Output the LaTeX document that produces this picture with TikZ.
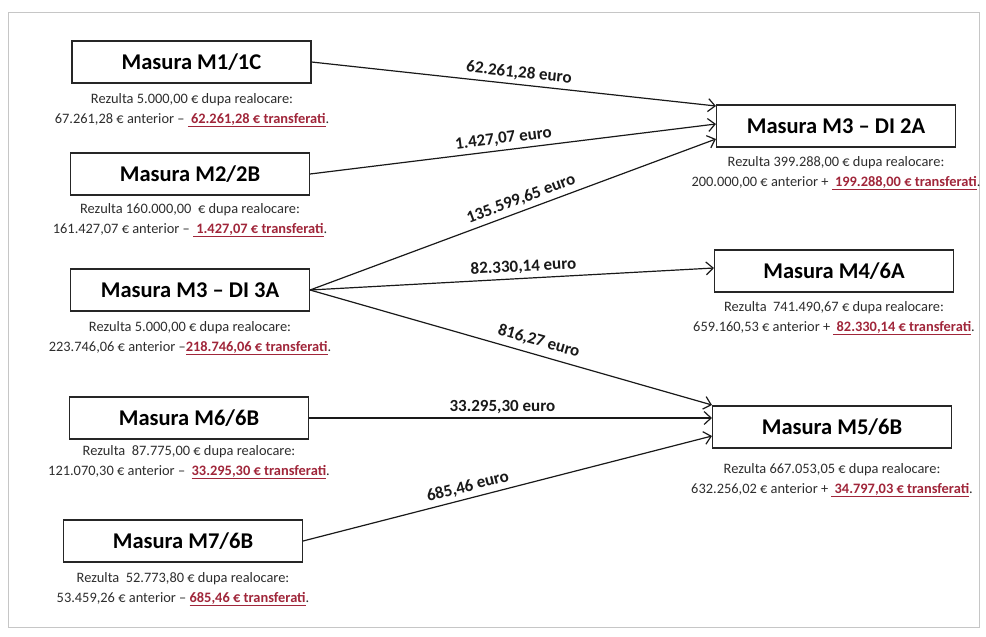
\documentclass[tikz,border=0pt]{standalone}
\usepackage{fontspec}
\setmainfont{Carlito}
\usetikzlibrary{arrows.meta,calc}
\definecolor{trred}{RGB}{160,38,58}
\definecolor{capgray}{RGB}{45,45,45}
\newcommand{\trx}[1]{\textcolor{trred}{\bfseries\underline{#1}}}
\begin{document}
\begin{tikzpicture}[x=1pt,y=-1pt,
  box/.style={draw=black!85, line width=1.1pt, minimum width=239pt, minimum height=42pt, inner sep=0pt, font=\fontsize{22.5}{26}\selectfont\bfseries},
  captext/.style={align=center, font=\fontsize{14.4}{20}\selectfont, text=capgray, inner sep=0pt},
  flow/.style={line width=1.2pt, draw=black!90, -{Straight Barb[length=7pt,width=13pt]}},
  lab/.style={font=\fontsize{17}{20}\selectfont\bfseries, sloped, above, inner sep=4pt, text=black!90}
]
\useasboundingbox (0,0) rectangle (986,637);
\draw[gray!45, line width=0.8pt] (8,12) rectangle (979,627);

% left boxes
\node[box] (m1) at (191.5,62) {Masura M1/1C};
\node[box] (m2) at (190,174) {Masura M2/2B};
\node[box] (m3a) at (190,290) {Masura M3 – DI 3A};
\node[box] (m6) at (189,418) {Masura M6/6B};
\node[box] (m7) at (183,541) {Masura M7/6B};
% right boxes
\node[box] (r2a) at (836,126) {Masura M3 – DI 2A};
\node[box] (r4) at (834,271) {Masura M4/6A};
\node[box] (r5) at (832,427) {Masura M5/6B};

% captions
\node[captext] (c1) at (192,110) {Rezulta 5.000,00 € dupa realocare:\\67.261,28 € anterior – \trx{~62.261,28 € transferati}.};
\node[captext] (c2) at (190,220) {Rezulta 160.000,00 \ € dupa realocare:\\161.427,07 € anterior – \trx{~1.427,07 € transferati}.};
\node[captext] (c3) at (190,338) {Rezulta 5.000,00 € dupa realocare:\\223.746,06 € anterior –\trx{218.746,06 € transferati}.};
\node[captext] (c6) at (189,462) {Rezulta \ 87.775,00 € dupa realocare:\\121.070,30 € anterior – \ \trx{33.295,30 € transferati}.};
\node[captext] (c7) at (183,589) {Rezulta \ 52.773,80 € dupa realocare:\\53.459,26 € anterior – \trx{685,46 € transferati}.};
\node[captext] (cr2) at (836,173) {Rezulta 399.288,00 € dupa realocare:\\200.000,00 € anterior + \trx{~199.288,00 € transferati}.};
\node[captext] (cr4) at (834,318) {Rezulta \ 741.490,67 € dupa realocare:\\659.160,53 € anterior + \trx{~82.330,14 € transferati}.};
\node[captext] (cr5) at (832,480) {Rezulta 667.053,05 € dupa realocare:\\632.256,02 € anterior + \trx{~34.797,03 € transferati}.};

% flows
\draw[flow] (m1.east) -- node[lab, pos=0.51] (l1) {62.261,28 euro} ($(r2a.west)+(0,-20)$);
\draw[flow] (m2.east) -- node[lab, pos=0.48] (l2) {1.427,07 euro} ($(r2a.west)+(0,-2)$);
\draw[flow] (m3a.east) -- node[lab, pos=0.53] (l3) {135.599,65 euro} ($(r2a.west)+(0,13)$);
\draw[flow] (m3a.east) -- node[lab, pos=0.53] (l4) {82.330,14 euro} ($(r4.west)+(0,-3)$);
\draw[flow] (m3a.east) -- node[lab, pos=0.56, inner sep=6pt] (l5) {816,27 euro} ($(r5.west)+(0,-22)$);
\draw[flow] (m6.east) -- node[lab, pos=0.48] (l6) {33.295,30 euro} ($(r5.west)+(0,-9)$);
\draw[flow] (m7.east) -- node[lab, pos=0.41] (l7) {685,46 euro} ($(r5.west)+(0,9)$);
\end{tikzpicture}
\end{document}
